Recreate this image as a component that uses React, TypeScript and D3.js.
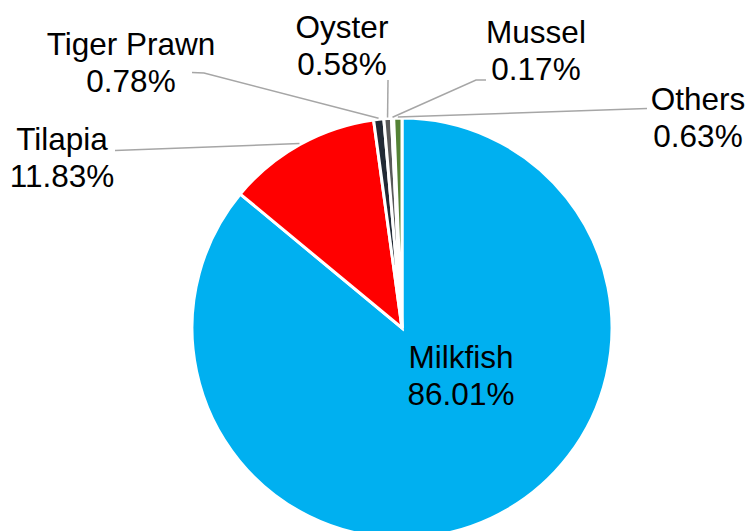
import React from "react";
import * as d3 from "d3";

const categories = ["Milkfish", "Tilapia", "Tiger Prawn", "Oyster", "Mussel", "Others"];
const shares = [86.01, 11.83, 0.78, 0.58, 0.17, 0.63];
const labels = ["86.01%", "11.83%", "0.78%", "0.58%", "0.17%", "0.63%"];
const colors = ["#00B0F0", "#FF0000", "#222A35", "#595959", "#D9D9D9", "#548235"];

const W = 750;
const H = 531;
const CX = 402;
const CY = 328;
const R = 210;
const FONT = 31.5;
const LINE = 37;

const labelLayout: Record<string, { x: number; y: number; lead?: [number, number][] }> = {
  Milkfish: { x: 461, y: 368 },
  Tilapia: { x: 62, y: 150, lead: [[115, 150.5]] },
  "Tiger Prawn": { x: 131, y: 55, lead: [[192, 72.5], [204, 73]] },
  Oyster: { x: 342, y: 38, lead: [[388, 80]] },
  Mussel: { x: 536, y: 43, lead: [[486, 80], [476, 80]] },
  Others: { x: 698, y: 110, lead: [[647, 108.5]] },
};

export default function App() {
  const pie = d3
    .pie<number>()
    .sort(null)
    .value((d) => d)(shares);
  const arc = d3.arc<d3.PieArcDatum<number>>().innerRadius(0).outerRadius(R);

  return (
    <svg width={W} height={H} style={{ display: "block", position: "absolute", left: 0, top: 0 }}>
      <rect width={W} height={H} fill="#fff" />
      <g transform={`translate(${CX},${CY})`}>
        {pie.map((p, i) => (
          <path key={i} d={arc(p) || ""} fill={colors[i]} stroke="#fff" strokeWidth={3} strokeLinejoin="miter" />
        ))}
      </g>
      {pie.map((p, i) => {
        const L = labelLayout[categories[i]];
        if (!L.lead) return null;
        const mid = (p.startAngle + p.endAngle) / 2;
        const er = R + 1;
        const ex = CX + er * Math.sin(mid);
        const ey = CY - er * Math.cos(mid);
        const pts: [number, number][] = [...L.lead, [ex, ey]];
        return (
          <polyline
            key={"l" + i}
            points={pts.map((q) => q.join(",")).join(" ")}
            fill="none"
            stroke="#A6A6A6"
            strokeWidth={1.5}
          />
        );
      })}
      {categories.map((c, i) => {
        const L = labelLayout[c];
        return (
          <text
            key={"t" + i}
            textAnchor="middle"
            fontFamily="'Liberation Sans', Arial, sans-serif"
            fontSize={FONT}
            fill="#000"
          >
            <tspan x={L.x} y={L.y}>{c}</tspan>
            <tspan x={L.x} y={L.y + LINE}>{labels[i]}</tspan>
          </text>
        );
      })}
    </svg>
  );
}
